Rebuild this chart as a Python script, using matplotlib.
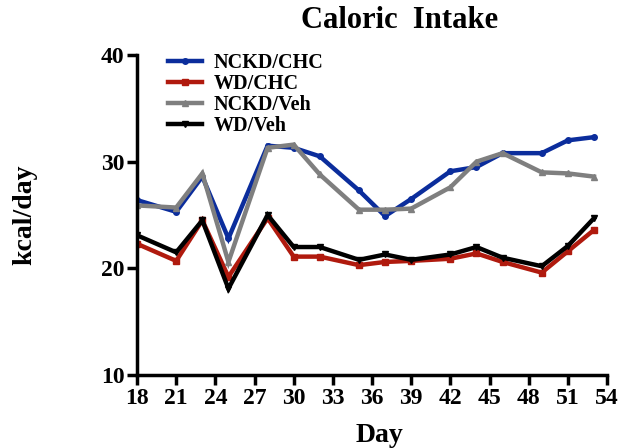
import matplotlib.pyplot as plt

# ---- data ----
days = [18, 21, 23, 25, 28, 30, 32, 35, 37, 39, 42, 44, 46, 49, 51, 53]
nckd_chc = [26.4, 25.3, 28.6, 22.8, 31.5, 31.3, 30.5, 27.3, 24.9, 26.5, 29.1, 29.5, 30.8, 30.8, 32.0, 32.3]
wd_chc = [22.3, 20.7, 24.5, 19.2, 24.7, 21.1, 21.1, 20.3, 20.6, 20.7, 20.9, 21.4, 20.6, 19.6, 21.6, 23.6]
nckd_veh = [25.9, 25.7, 28.9, 20.6, 31.3, 31.6, 28.8, 25.5, 25.5, 25.6, 27.6, 30.0, 30.8, 29.0, 28.9, 28.6]
wd_veh = [23.1, 21.5, 24.5, 18.1, 25.0, 22.0, 22.0, 20.8, 21.3, 20.8, 21.3, 22.0, 21.0, 20.2, 22.1, 24.7]

xticks = list(range(18, 55, 3))
yticks = [10, 20, 30, 40]

plt.rcParams["font.family"] = ["Liberation Serif", "DejaVu Serif"]
plt.rcParams["font.weight"] = "bold"

fig = plt.figure(figsize=(6.24, 4.48), dpi=100)
ax = fig.add_axes([0.2196, 0.1629, 0.7532, 0.7143])

series = [
    ("NCKD/CHC", nckd_chc, "#0b2d9c", "o", 4),
    ("WD/CHC", wd_chc, "#b01a0e", "s", 4),
    ("NCKD/Veh", nckd_veh, "#7f7f7f", "^", 4),
    ("WD/Veh", wd_veh, "#000000", "v", 4),
]
for name, vals, col, mk, ms in series:
    ax.plot(days, vals, color=col, lw=3.2, marker=mk, ms=ms, label=name,
            solid_joinstyle="miter")

ax.set_xlim(18, 54)
ax.set_ylim(10, 40)
ax.set_xticks(xticks)
ax.set_yticks(yticks)
ax.tick_params(labelsize=17, width=2.5, length=7, direction="out", pad=2)
for lab in ax.get_xticklabels() + ax.get_yticklabels():
    lab.set_fontweight("bold")

for s in ["top", "right"]:
    ax.spines[s].set_visible(False)
for s in ["left", "bottom"]:
    ax.spines[s].set_linewidth(2.5)

ax.set_xlabel("Day", fontsize=20, fontweight="bold")
ax.xaxis.set_label_coords(0.515, -0.15)
ax.set_ylabel("kcal/day", fontsize=20, fontweight="bold")
ax.yaxis.set_label_coords(-0.213, 0.5)
fig.text(400 / 624, 1 - 21 / 448, "Caloric  Intake", fontsize=22,
         fontweight="bold", ha="center", va="center")

leg = ax.legend(loc="upper left", bbox_to_anchor=(0.049, 1.03), frameon=False,
                fontsize=14.5, handlelength=1.7, handletextpad=0.55,
                labelspacing=0.05, borderaxespad=0)
for t in leg.get_texts():
    t.set_fontweight("bold")

fig.savefig("out.png", dpi=100)
